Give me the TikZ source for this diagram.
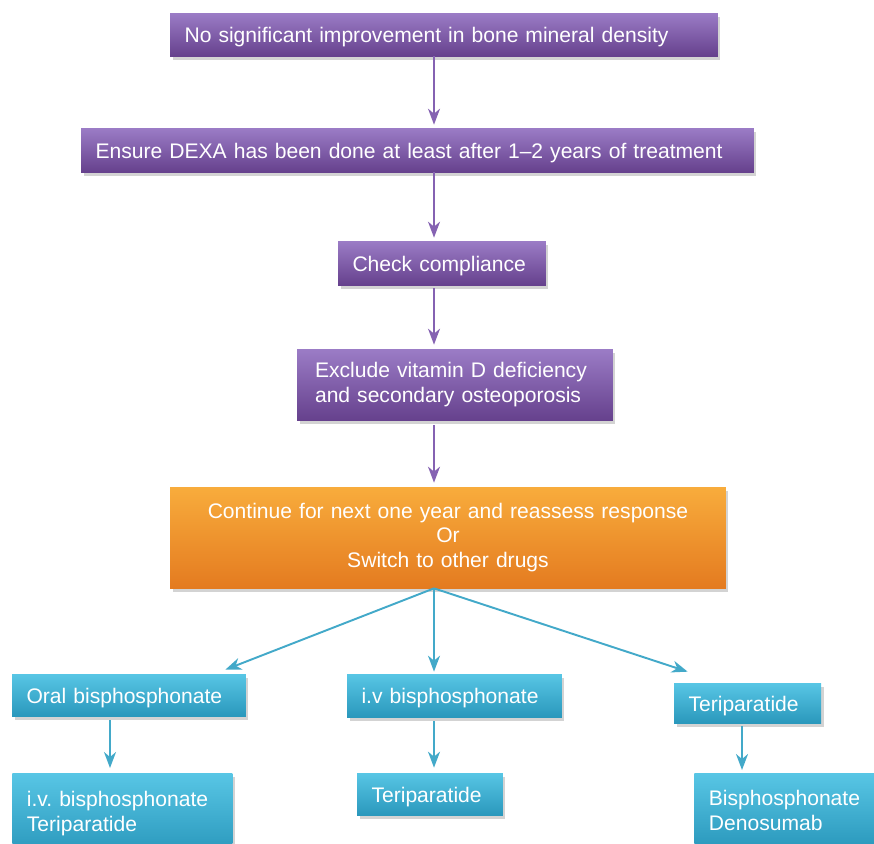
\documentclass[tikz,border=0pt]{standalone}
\usepackage{fontspec}
\setmainfont{Liberation Sans}
\usetikzlibrary{arrows.meta,shadows,calc}
\frenchspacing

\definecolor{purptop}{HTML}{9B7CC6}
\definecolor{purpbot}{HTML}{66418D}
\definecolor{orgtop}{HTML}{F8AC3C}
\definecolor{orgbot}{HTML}{E47B20}
\definecolor{bluetop}{HTML}{58C6E5}
\definecolor{bluebot}{HTML}{2A98BC}
\definecolor{purpline}{HTML}{8562B2}
\definecolor{blueline}{HTML}{43A9C9}

\tikzset{
  box/.style={draw=none, text=white, align=left, inner xsep=0.29cm, inner ysep=0pt,
    font=\fontsize{12}{14.2}\selectfont,
    drop shadow={shadow xshift=0.05cm, shadow yshift=-0.07cm, opacity=0.35}},
  oneline/.style={text height=12.5pt, text depth=3pt},
  purpbox/.style={box, top color=purptop, bottom color=purpbot},
  orgbox/.style={box, top color=orgtop, bottom color=orgbot},
  bluebox/.style={box, top color=bluetop, bottom color=bluebot},
  parrow/.style={->, line width=1.1pt, draw=purpline},
  barrow/.style={->, line width=1.1pt, draw=blueline}
}

\begin{document}
\begin{tikzpicture}[x=0.02cm, y=-0.02cm, >={Stealth[length=0.32cm, width=0.24cm, inset=0.1cm]}]
\useasboundingbox (0,0) rectangle (874,843);
\node[purpbox, oneline, text width=10.38cm, minimum height=0.86cm] (bmd) at (444,34.5) {No significant improvement in bone mineral density};
\node[purpbox, oneline, text width=12.88cm, minimum height=0.88cm] (dexa) at (417.5,150) {Ensure DEXA has been done at least after 1--2 years of treatment};
\node[purpbox, oneline, text width=3.58cm, minimum height=0.88cm] (comp) at (442,263) {Check compliance};
\node[purpbox, inner xsep=0.36cm, text width=5.6cm, minimum height=1.42cm] (excl) at (455,384.5) {Exclude vitamin D deficiency\\and secondary osteoporosis};
\node[orgbox, align=center, text width=10.54cm, minimum height=2.02cm] (cont) at (448,537.5) {Continue for next one year and reassess response\\Or\\Switch to other drugs};
\node[bluebox, oneline, text width=4.1cm, minimum height=0.84cm] (oral) at (129,695) {Oral bisphosphonate};
\node[bluebox, oneline, text width=3.72cm, minimum height=0.86cm] (iv) at (454.5,695.5) {i.v bisphosphonate};
\node[bluebox, oneline, text width=2.36cm, minimum height=0.8cm] (teri) at (747.5,703) {Teriparatide};
\node[bluebox, anchor=north west, text width=3.82cm, minimum height=1.6cm] (oralnext) at (12,773) {i.v. bisphosphonate\\Teriparatide};
\node[bluebox, oneline, text width=2.34cm, minimum height=0.84cm] (ivnext) at (430,794) {Teriparatide};
\node[bluebox, anchor=north west, text width=3.3cm, minimum height=1.5cm] (terinext) at (694,773) {Bisphosphonate\\Denosumab};
\coordinate (mcol) at (434,0);
\coordinate (lcol) at (110,0);
\coordinate (rcol) at (742,0);
\path (bmd.south -| mcol) edge [parrow, shorten >=0.06cm] (dexa.north -| mcol);
\path (dexa.south -| mcol) edge [parrow, shorten >=0.06cm] (comp.north -| mcol);
\path (comp.south -| mcol) edge [parrow, shorten <=0.06cm, shorten >=0.08cm] (excl.north -| mcol);
\path (excl.south -| mcol) edge [parrow, shorten <=0.1cm, shorten >=0.08cm] (cont.north -| mcol);
\path (cont.south -| mcol) edge [barrow] ($(oral.north east)+(-21,-4)$);
\path (cont.south -| mcol) edge [barrow, shorten >=0.04cm] (iv.north -| mcol);
\path (cont.south -| mcol) edge [barrow] ($(teri.north west)+(14,-11)$);
\path (oral.south -| lcol) edge [barrow, shorten <=0.08cm, shorten >=0.1cm] (oralnext.north -| lcol);
\path (iv.south -| mcol) edge [barrow, shorten <=0.08cm, shorten >=0.1cm] (ivnext.north -| mcol);
\path (teri.south -| rcol) edge [barrow, shorten <=0.06cm, shorten >=0.06cm] (terinext.north -| rcol);
\end{tikzpicture}
\end{document}
